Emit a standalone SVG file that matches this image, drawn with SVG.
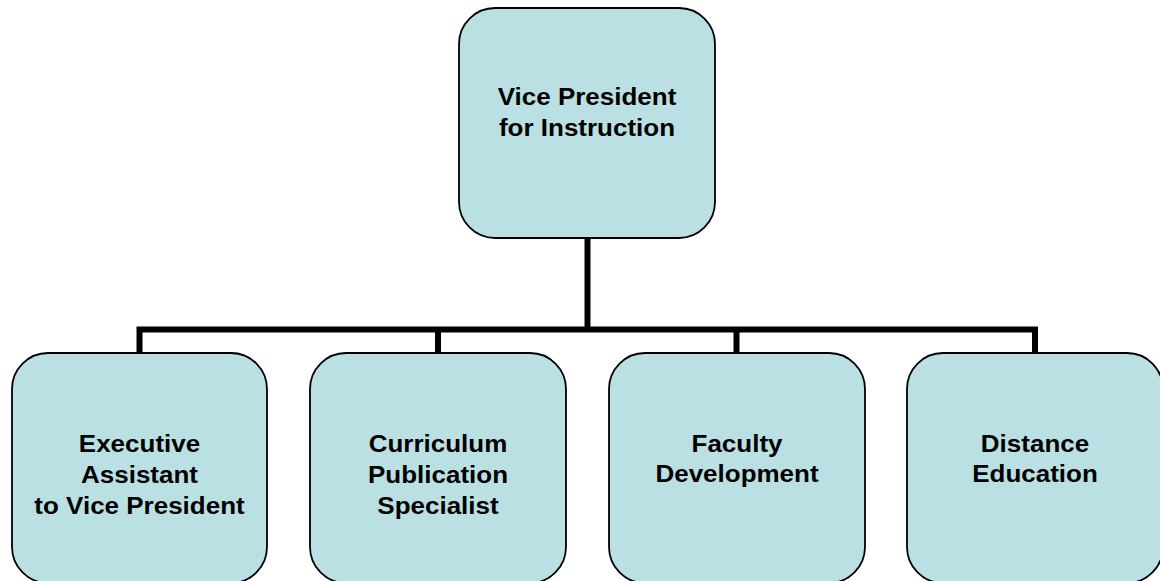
<svg xmlns="http://www.w3.org/2000/svg" width="1160" height="581" viewBox="0 0 1160 581">
  <style>
    .box { fill: #BAE0E3; stroke: #000; stroke-width: 1.8; }
    .lbl { font-family: "Liberation Sans", Arial, sans-serif; font-weight: bold; font-size: 23px; fill: #000; text-anchor: middle; }
    .wire { fill: none; stroke: #000; stroke-width: 6; stroke-linecap: butt; stroke-linejoin: miter; }
  </style>
  <rect width="1160" height="581" fill="#fff"/>

  <g id="connectors">
    <path class="wire" d="M587.5 238 V329.5"/>
    <path class="wire" d="M139.5 353 V329.5 H1035 V353"/>
    <path class="wire" d="M438 329.5 V353"/>
    <path class="wire" d="M736.5 329.5 V353"/>
  </g>

  <g id="vp">
    <rect class="box" x="459" y="8" width="256" height="230" rx="36" ry="36"/>
    <g class="lbl" transform="translate(587 0) scale(1.13 1)">
      <text x="0" y="105">Vice President</text>
      <text x="0" y="136">for Instruction</text>
    </g>
  </g>

  <g id="exec-assistant">
    <rect class="box" x="12" y="353" width="255" height="230" rx="36" ry="36"/>
    <g class="lbl" transform="translate(139.5 0) scale(1.13 1)">
      <text x="0" y="452">Executive</text>
      <text x="0" y="483">Assistant</text>
      <text x="0" y="514">to Vice President</text>
    </g>
  </g>

  <g id="curriculum">
    <rect class="box" x="310" y="353" width="256" height="230" rx="36" ry="36"/>
    <g class="lbl" transform="translate(438 0) scale(1.13 1)">
      <text x="0" y="452">Curriculum</text>
      <text x="0" y="483">Publication</text>
      <text x="0" y="514">Specialist</text>
    </g>
  </g>

  <g id="faculty">
    <rect class="box" x="609" y="353" width="256" height="230" rx="36" ry="36"/>
    <g class="lbl" transform="translate(737 0) scale(1.13 1)">
      <text x="0" y="452">Faculty</text>
      <text x="0" y="482">Development</text>
    </g>
  </g>

  <g id="distance">
    <rect class="box" x="907" y="353" width="256" height="230" rx="36" ry="36"/>
    <g class="lbl" transform="translate(1035 0) scale(1.13 1)">
      <text x="0" y="452">Distance</text>
      <text x="0" y="482">Education</text>
    </g>
  </g>
</svg>
